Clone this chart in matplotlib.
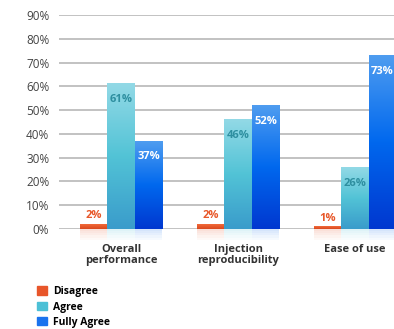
import numpy as np
import matplotlib
matplotlib.use("Agg")
import matplotlib.pyplot as plt
from matplotlib.colors import LinearSegmentedColormap
from matplotlib.patches import Patch

plt.rcParams['font.family'] = ['Open Sans', 'DejaVu Sans']

categories = ["Overall\nperformance", "Injection\nreproducibility", "Ease of use"]
series = ["Disagree", "Agree", "Fully Agree"]
disagree = [2, 2, 1]
agree = [61, 46, 26]
fully_agree = [37, 52, 73]
yticks = [0, 10, 20, 30, 40, 50, 60, 70, 80, 90]

values = [disagree, agree, fully_agree]
# gradient colours, bottom -> top
grads = [["#D9481E", "#F26A3A"],
         ["#3A9CCB", "#52C3D6", "#92D9E6"],
         ["#0038D0", "#0068EE", "#4E9CF0"]]
solid = ["#E8562A", "#4CC0D6", "#1A73EE"]
label_col = ["#E8582A", "#2E8FA0", "white"]

fig = plt.figure(figsize=(3.94, 3.29), dpi=100)
ax = fig.add_axes([59/394, 100/329, 335/394, 214/329])

w = 0.235
x = np.arange(len(categories))

for yv in yticks:
    ax.axhline(yv, color="#BDBDBD", lw=1.3, zorder=0)

for i, vals in enumerate(values):
    cmap = LinearSegmentedColormap.from_list("g%d" % i, grads[i])
    grad = np.linspace(1, 0, 64).reshape(-1, 1)
    for j, v in enumerate(vals):
        x0 = x[j] + (i - 1) * w - w / 2
        ax.imshow(grad, extent=[x0, x0 + w, 0, v], aspect="auto", cmap=cmap,
                  zorder=2, interpolation="bilinear")
        # faint reflection under the base line
        for k in range(5):
            ax.bar(x0 + w / 2, -0.9, bottom=-0.9 * k, width=w, color=solid[i],
                   alpha=0.18 * (1 - k / 5), lw=0, clip_on=False, zorder=1)
        if i == 0:
            ax.annotate("%d%%" % v, (x[j] + (i - 1) * w, v), xytext=(0, 2),
                        textcoords="offset points", ha="center", va="bottom",
                        fontsize=8, fontweight="bold", color=label_col[i])
        else:
            ax.annotate("%d%%" % v, (x[j] + (i - 1) * w, v), xytext=(0, -7.5),
                        textcoords="offset points", ha="center", va="top",
                        fontsize=8, fontweight="bold", color=label_col[i], zorder=3)

ax.set_xlim(-0.53, 2.333)
ax.set_ylim(0, 90)
ax.set_yticks(yticks)
ax.set_yticklabels(["%d%%" % t for t in yticks], fontsize=8.5, color="#444444")
ax.set_xticks(x)
ax.set_xticklabels(categories, fontsize=8, fontweight="bold", color="#333333",
                   linespacing=1.0)
ax.tick_params(length=0, axis="y", pad=7)
ax.tick_params(length=0, axis="x", pad=11)
for s in ax.spines.values():
    s.set_visible(False)

handles = [Patch(color=c) for c in solid]
fig.legend(handles, series, loc="upper left", bbox_to_anchor=(28/394, 1 - 277/329),
           frameon=False, handlelength=0.9, handleheight=0.9,
           labelspacing=0.4, handletextpad=0.6, prop={"weight": "bold", "size": 7.5})

fig.savefig("out.png", dpi=100)
